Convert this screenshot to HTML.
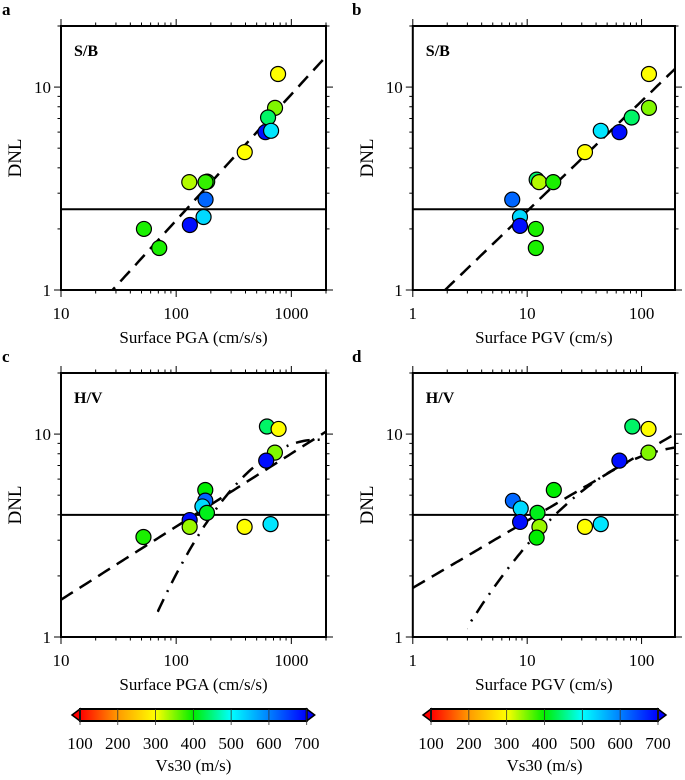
<!DOCTYPE html>
<html><head><meta charset="utf-8"><style>
html,body{margin:0;padding:0;background:#fff;width:685px;height:780px;overflow:hidden;}
svg{display:block;font-family:"Liberation Serif",serif;}
</style></head><body>
<svg id="fig" width="685" height="780" viewBox="0 0 685 780" xmlns="http://www.w3.org/2000/svg">
<defs>
<linearGradient id="rainbow" x1="0" x2="1" y1="0" y2="0">
<stop offset="0" stop-color="#ff0000"/><stop offset="0.1667" stop-color="#ff9a00"/><stop offset="0.3333" stop-color="#ffff00"/><stop offset="0.5" stop-color="#00ee00"/><stop offset="0.6667" stop-color="#00ffff"/><stop offset="0.8333" stop-color="#0080ff"/><stop offset="1" stop-color="#0000ff"/>
</linearGradient>
</defs>
</svg>
<script>
// ---- data ----
const aX=[767,722,628,596,667,394,130,186,180,180,173,131.5,52.5,71.3];
const aY=[11.6,7.9,7.08,6.0,6.09,4.78,3.40,3.42,3.40,2.79,2.29,2.09,2.0,1.61];
const aV=[300,350,440,690,520,300,330,400,380,620,530,690,390,390];
const bX=[116,116,82,64,44,32,12.1,12.7,16.9,7.4,8.65,8.65,11.9,11.9];
const bY=[11.6,7.9,7.08,6.0,6.09,4.78,3.5,3.40,3.40,2.79,2.29,2.07,2.0,1.61];
const bV=[300,350,440,690,520,300,440,330,390,620,530,690,390,390];
const cX=[614,775,720,605,179,179,169,185,131,131,393,660,52];
const cY=[10.9,10.6,8.1,7.4,5.3,4.7,4.4,4.09,3.77,3.49,3.49,3.6,3.11];
const cV=[440,300,350,690,400,620,530,410,690,340,300,520,390];
const dX=[83,115,115,64,17.1,7.5,8.78,12.3,8.67,12.8,12.1,32,44];
const dY=[10.9,10.6,8.1,7.4,5.3,4.69,4.3,4.09,3.69,3.49,3.09,3.49,3.6];
const dV=[440,300,350,690,400,620,530,410,690,340,400,300,520];
// fit lines: log10(DNL) = c0 + c1*log10(x) + c2*log10(x)^2
const aDash=[-0.899,0.621,0];
const bDash=[-0.153,0.542,0];
const cDash=[-0.176,0.36,0];
const cDashDot=[-3.611,2.8396,-0.4398];
const dDash=[0.242,0.331,0];
const dDashDot=[-0.4277,1.105,-0.223];
const thresholds=[2.5,2.5,4.0,4.0];
const pgaTicks=[10,100,1000];
const pgvTicks=[1,10,100];
const yTicks=[1,10];
const cbTicks=[100,200,300,400,500,600,700];
</script>
<script>
const NS="http://www.w3.org/2000/svg";
const svg=document.getElementById('fig');
function mk(tag,attrs,parent){const e=document.createElementNS(NS,tag);for(const k in attrs)e.setAttribute(k,attrs[k]);(parent||svg).appendChild(e);return e;}
function vsColor(v){
  const st=[[100,[255,0,0]],[200,[255,154,0]],[300,[255,255,0]],[400,[0,238,0]],[500,[0,255,255]],[600,[0,128,255]],[700,[0,0,255]]];
  v=Math.max(100,Math.min(700,v));
  for(let i=0;i<st.length-1;i++){if(v<=st[i+1][0]){const t=(v-st[i][0])/100;const c=st[i][1].map((a,j)=>Math.round(a+(st[i+1][1][j]-a)*t));return `rgb(${c})`;}}
  return 'rgb(0,0,255)';
}
function panel(o){
  const g=mk('g',{});
  
  
  const L=o.x0,R=o.x1,T=o.y0,B=o.y1;
  const lx0=Math.log10(o.xmin),lx1=Math.log10(o.xmax),ly0=0,ly1=Math.log10(20);
  const sx=v=>L+(Math.log10(v)-lx0)/(lx1-lx0)*(R-L);
  const sy=v=>B-(Math.log10(v)-ly0)/(ly1-ly0)*(B-T);
  const cp=mk('clipPath',{id:'clip'+o.id},g);mk('rect',{x:L,y:T,width:R-L,height:B-T},cp);
  if(o.ddStart){const c2=mk('clipPath',{id:'clipdd'+o.id},g);mk('rect',{x:sx(o.ddStart),y:T,width:R-sx(o.ddStart),height:B-T},c2);}
  for(let d=Math.floor(lx0);d<=Math.ceil(lx1);d++){for(let m=1;m<10;m++){const v=m*Math.pow(10,d);if(v<o.xmin-1e-9||v>o.xmax+1e-9)continue;const x=sx(v);const len=m===1?7:3.5;
    mk('line',{x1:x,x2:x,y1:B,y2:B+len,stroke:'#000','stroke-width':1},g);mk('line',{x1:x,x2:x,y1:T,y2:T-len,stroke:'#000','stroke-width':1},g);}}
  for(let m=1;m<=20;m++){const v=m<10?m:(m%10===0?m:null);if(v===null)continue;const y=sy(v);const len=(v===1||v===10)?7:3.5;
    mk('line',{x1:L,x2:L-len,y1:y,y2:y,stroke:'#000','stroke-width':1},g);mk('line',{x1:R,x2:R+len,y1:y,y2:y,stroke:'#000','stroke-width':1},g);}
  o.xt.forEach(v=>{const t=mk('text',{x:sx(v),y:B+29,'text-anchor':'middle','font-size':17},g);t.textContent=v;
    });
  yTicks.forEach(v=>{const t=mk('text',{x:L-10,y:sy(v)+6,'text-anchor':'end','font-size':17},g);t.textContent=v;
    });
  const xl=mk('text',{x:(L+R)/2,y:B+53,'text-anchor':'middle','font-size':17},g);xl.textContent=o.xlabel;
  
  const yl=mk('text',{x:0,y:0,'text-anchor':'middle','font-size':19,transform:`translate(${L-40},${(T+B)/2}) rotate(-90)`},g);yl.textContent='DNL';
  
  const pl=mk('text',{x:o.lx,y:T-11,'font-size':17,'font-weight':'bold'},g);pl.textContent=o.id;
  
  const tl=mk('text',{x:L+13,y:T+30,'font-size':16,'font-weight':'bold'},g);tl.textContent=o.title;
  
  const cg=mk('g',{'clip-path':`url(#clip${o.id})`},g);
  const hl=mk('line',{x1:L,x2:R,y1:sy(o.thr),y2:sy(o.thr),stroke:'#000','stroke-width':2},cg);
  
  o.fits.forEach(f=>{let d='';const n=120;for(let i=0;i<=n;i++){const u=lx0+(lx1-lx0)*i/n;const ly=f.c[0]+f.c[1]*u+f.c[2]*u*u;const px=sx(Math.pow(10,u)),py=B-(ly-ly0)/(ly1-ly0)*(B-T);d+=(i?'L':'M')+px.toFixed(1)+' '+py.toFixed(1);}
    const p=mk('path',{d:d,fill:'none',stroke:'#000','stroke-width':2.5,'stroke-dasharray':f.dash},cg);
    if(f.minY){p.setAttribute('clip-path',`url(#clipdd${o.id})`);}
    });
  o.X.forEach((xv,i)=>{const c=mk('circle',{cx:sx(xv),cy:sy(o.Y[i]),r:7.5,fill:vsColor(o.V[i]),stroke:'#000','stroke-width':1.2},cg);
    });
  const fr=mk('rect',{x:L,y:T,width:R-L,height:B-T,fill:'none',stroke:'#000','stroke-width':2},g);
  
}
panel({id:'a',x0:61,x1:326,y0:26,y1:290,xmin:10,xmax:2000,xt:pgaTicks,xlabel:'Surface PGA (cm/s/s)',title:'S/B',lx:2,thr:thresholds[0],X:aX,Y:aY,V:aV,fits:[{c:aDash,dash:'14 8',name:'fit-dashed'}]});
panel({id:'b',x0:412.8,x1:675,y0:26,y1:290,xmin:1,xmax:196,xt:pgvTicks,xlabel:'Surface PGV (cm/s)',title:'S/B',lx:352,thr:thresholds[1],X:bX,Y:bY,V:bV,fits:[{c:bDash,dash:'14 8',name:'fit-dashed'}]});
panel({id:'c',x0:61,x1:326,y0:373,y1:637,xmin:10,xmax:2000,xt:pgaTicks,xlabel:'Surface PGA (cm/s/s)',title:'H/V',lx:2,thr:thresholds[2],X:cX,Y:cY,V:cV,ddStart:68,fits:[{c:cDash,dash:'14 8',name:'fit-dashed'},{c:cDashDot,dash:'14 8 2 8',name:'fit-dash-dot',minY:true}]});
panel({id:'d',x0:412.8,x1:675,y0:373,y1:637,xmin:1,xmax:196,xt:pgvTicks,xlabel:'Surface PGV (cm/s)',title:'H/V',lx:352,thr:thresholds[3],X:dX,Y:dY,V:dV,ddStart:3,fits:[{c:dDash,dash:'14 8',name:'fit-dashed'},{c:dDashDot,dash:'14 8 2 8',name:'fit-dash-dot',minY:true}]});
function colorbar(x0,x1,id){
  const g=mk('g',{});
  
  
  const y0=709,y1=721,ym=(y0+y1)/2;
  mk('polygon',{points:`${x0},${y0} ${x0-8},${ym} ${x0},${y1}`,fill:'#ff0000',stroke:'#000','stroke-width':1.5},g);
  mk('polygon',{points:`${x1},${y0} ${x1+8},${ym} ${x1},${y1}`,fill:'#0000ff',stroke:'#000','stroke-width':1.5},g);
  mk('rect',{x:x0,y:y0,width:x1-x0,height:y1-y0,fill:'url(#rainbow)',stroke:'#000','stroke-width':2},g);
  const sc=v=>x0+(v-100)/600*(x1-x0);
  cbTicks.forEach(v=>{const x=sc(v);mk('line',{x1:x,x2:x,y1:y0,y2:y1+4,stroke:'#333','stroke-width':0.8},g);
    const t=mk('text',{x:x,y:749,'text-anchor':'middle','font-size':17},g);t.textContent=v;
    });
  const t=mk('text',{x:(x0+x1)/2,y:771,'text-anchor':'middle','font-size':17},g);t.textContent='Vs30 (m/s)';
  
}
colorbar(80,306.7,'left');
colorbar(431,658,'right');
</script>
</body></html>
